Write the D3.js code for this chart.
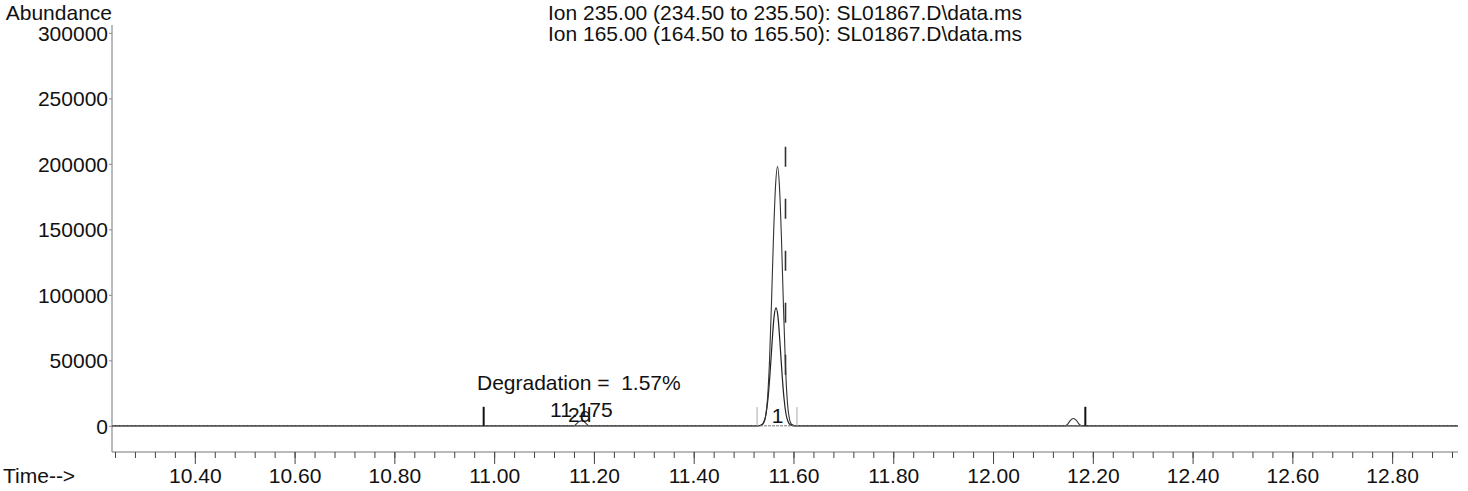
<!DOCTYPE html>
<html>
<head>
<meta charset="utf-8">
<script src="https://cdn.jsdelivr.net/npm/d3@7"></script>
<style>
  html, body { margin: 0; padding: 0; background: #fff; }
  svg text { font-family: "Liberation Sans", Arial, sans-serif; font-size: 21px; fill: #111; white-space: pre; }
</style>
</head>
<body>
<svg id="chart" width="1468" height="491"></svg>
<script>
// ---------- DATA ----------
const titleLines = [
  "Ion 235.00 (234.50 to 235.50): SL01867.D\\data.ms",
  "Ion 165.00 (164.50 to 165.50): SL01867.D\\data.ms"
];
const yTickValues = [0, 50000, 100000, 150000, 200000, 250000, 300000];
const yTickLabels = ["0", "50000", "100000", "150000", "200000", "250000", "300000"];
const xMajorTicks = [10.40, 10.60, 10.80, 11.00, 11.20, 11.40, 11.60, 11.80, 12.00, 12.20, 12.40, 12.60, 12.80];
const xTickLabels = ["10.40", "10.60", "10.80", "11.00", "11.20", "11.40", "11.60", "11.80", "12.00", "12.20", "12.40", "12.60", "12.80"];

// Ion 235 trace (time, abundance)
const ion235Time = [10.234, 11.160, 11.165, 11.170, 11.175, 11.180, 11.185, 11.190,
  11.532, 11.540, 11.544, 11.548, 11.552, 11.556, 11.560, 11.564, 11.568, 11.572, 11.576, 11.580, 11.584, 11.588, 11.592, 11.596, 11.604,
  12.145, 12.150, 12.155, 12.161, 12.167, 12.172, 12.178, 12.932];
const ion235Abund = [0, 0, 1500, 3200, 3800, 3200, 1500, 0,
  0, 2000, 7000, 21000, 50000, 95000, 145000, 183000, 198000, 182000, 142000, 90000, 45000, 17000, 5000, 1200, 0,
  0, 1500, 4200, 5600, 4200, 1500, 0, 0];

// Ion 165 trace (time, abundance)
const ion165Time = [10.234, 11.529, 11.537, 11.541, 11.545, 11.549, 11.553, 11.557, 11.561, 11.565, 11.569, 11.573, 11.577, 11.581, 11.585, 11.589, 11.593, 11.601, 12.932];
const ion165Abund = [0, 0, 1000, 3300, 9000, 21000, 40000, 63000, 83000, 90000, 83000, 63000, 40000, 21000, 9000, 3300, 1000, 0, 0];

// Integration / event markers
const blackMarkerTimes = [10.979, 12.185];
const blackMarkerHeight = 14500;
const greyMarkerTimes = [11.527, 11.607];
const greyMarkerHeight = 14300;
const dashedMarker = { time: 11.584, from: 37000, to: 213000 };

// Annotations (text, time, abundance of text baseline)
const annotationTexts = ["Degradation =  1.57%", "11.175", "2d", "1"];
const annotationTimes = [10.9656, 11.112, 11.148, 11.5563];
const annotationValues = [27100, 6600, 2800, 2300];

// ---------- LAYOUT ----------
const L = 112, R = 1458, T = 25, B = 452;
const svg = d3.select("#chart");
const x = d3.scaleLinear().domain([10.234, 12.932]).range([L, R]);
const y = d3.scaleLinear().domain([-20000, 306000]).range([B, T]);

// Title
svg.selectAll("text.title").data(titleLines).join("text")
  .attr("class", "title")
  .attr("x", (L + R) / 2)
  .attr("y", (d, i) => 20 + i * 20.5)
  .attr("text-anchor", "middle")
  .text(d => d);

// Y axis
svg.append("text").attr("x", 112).attr("y", 20).attr("text-anchor", "end").text("Abundance");
const yAxis = d3.axisLeft(y).tickValues(yTickValues).tickFormat((d, i) => yTickLabels[i]).tickSize(3).tickPadding(1);
const gy = svg.append("g").attr("transform", `translate(${L},0)`).call(yAxis);
gy.select(".domain").attr("stroke", "#777").attr("d", `M0,${T}V${B}`);
gy.selectAll(".tick line").attr("stroke", "#888");
gy.selectAll(".tick text").attr("font-size", null).attr("font-family", null).attr("fill", "#111")
  .attr("dy", "0.36em");

// X axis: minor then major
const minorTicks = d3.range(0, 68).map(i => +(10.24 + i * 0.04).toFixed(2));
const gxMinor = svg.append("g").attr("transform", `translate(0,${B})`)
  .call(d3.axisBottom(x).tickValues(minorTicks).tickSize(6).tickFormat(""));
gxMinor.select(".domain").attr("stroke", "#777").attr("d", `M${L},0H${R}`);
gxMinor.selectAll(".tick line").attr("stroke", "#444");
const gxMajor = svg.append("g").attr("transform", `translate(0,${B})`)
  .call(d3.axisBottom(x).tickValues(xMajorTicks).tickSize(12).tickPadding(4).tickFormat((d, i) => xTickLabels[i]));
gxMajor.select(".domain").remove();
gxMajor.selectAll(".tick line").attr("stroke", "#444");
gxMajor.selectAll(".tick text").attr("font-size", null).attr("font-family", null).attr("fill", "#111")
  .attr("y", 31).attr("dy", 0);
svg.append("text").attr("x", 3).attr("y", 483).text("Time-->");

// Traces
const line = d3.line().x(d => x(d[0])).y(d => y(d[1])).curve(d3.curveMonotoneX);
const s235 = ion235Time.map((t, i) => [t, ion235Abund[i]]);
const s165 = ion165Time.map((t, i) => [t, ion165Abund[i]]);
svg.append("path").datum(s165).attr("d", line).attr("fill", "none").attr("stroke", "#222").attr("stroke-width", 1.2);
svg.append("path").datum(s235).attr("d", line).attr("fill", "none").attr("stroke", "#333").attr("stroke-width", 1.1);
svg.append("path").datum([[10.234, 0], [12.932, 0]]).attr("d", line).attr("fill", "none")
  .attr("stroke", "#777").attr("stroke-width", 1).attr("stroke-dasharray", "3,1");

// Markers
svg.selectAll("line.bm").data(blackMarkerTimes).join("line").attr("class", "bm")
  .attr("x1", d => x(d)).attr("x2", d => x(d))
  .attr("y1", y(0)).attr("y2", y(blackMarkerHeight))
  .attr("stroke", "#111").attr("stroke-width", 2);
svg.selectAll("line.gm").data(greyMarkerTimes).join("line").attr("class", "gm")
  .attr("x1", d => x(d)).attr("x2", d => x(d))
  .attr("y1", y(0)).attr("y2", y(greyMarkerHeight))
  .attr("stroke", "#aaa").attr("stroke-width", 1);
svg.append("line")
  .attr("x1", x(dashedMarker.time)).attr("x2", x(dashedMarker.time))
  .attr("y1", y(dashedMarker.to)).attr("y2", y(dashedMarker.from))
  .attr("stroke", "#333").attr("stroke-width", 1.6).attr("stroke-dasharray", "20,32");

// Annotations
svg.selectAll("text.ann").data(annotationTexts).join("text").attr("class", "ann")
  .attr("x", (d, i) => x(annotationTimes[i]))
  .attr("y", (d, i) => y(annotationValues[i]))
  .text(d => d);
</script>
</body>
</html>
